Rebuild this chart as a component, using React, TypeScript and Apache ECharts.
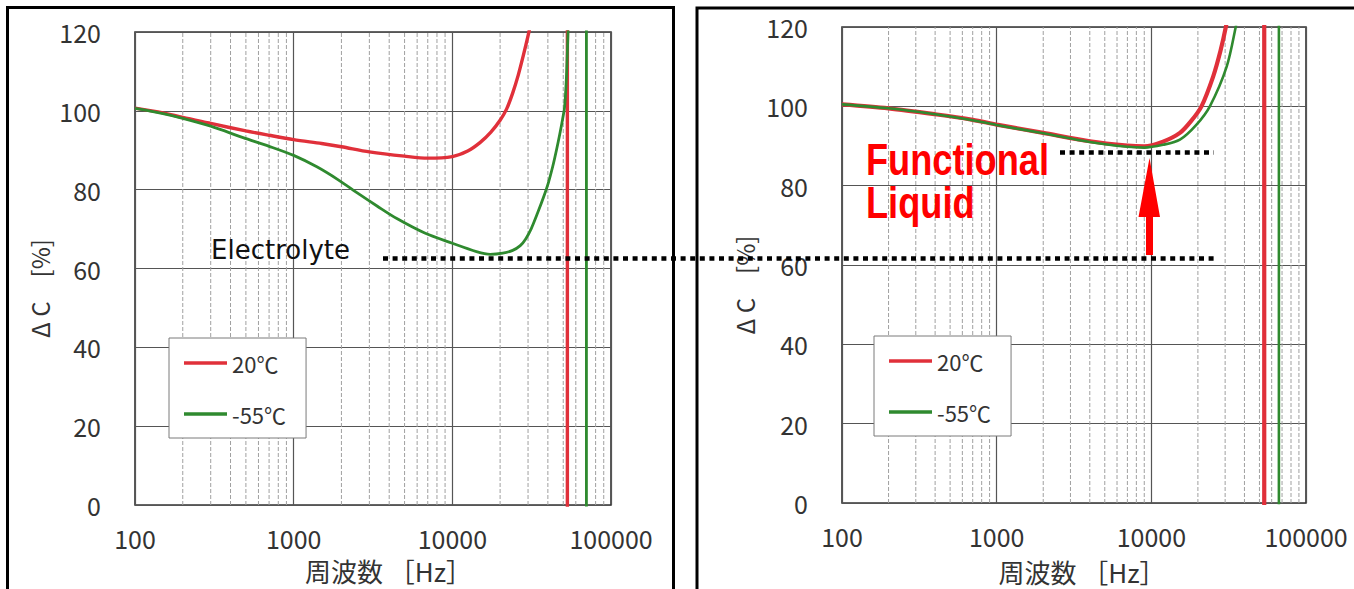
import React, { useEffect, useRef } from "react";
import * as echarts from "echarts";

// ---------- data ----------
const xMin = 100;
const xMax = 100000;
const yTicksInterval = 20;
const yMin = 0;
const yMax = 120;

const minorFreqs = [
  200, 300, 400, 500, 600, 700, 800, 900,
  2000, 3000, 4000, 5000, 6000, 7000, 8000, 9000,
  20000, 30000, 40000, 50000, 60000, 70000, 80000, 90000,
];

const seriesNames = ["20℃", "-55℃"];

// Left chart (Electrolyte)
const leftRedCurve: [number, number][] = [
  [100, 100.7], [150, 99.5], [200, 98.3], [300, 96.8], [500, 94.9], [700, 93.8],
  [1000, 92.7], [1500, 91.7], [2000, 90.9], [3000, 89.6], [5000, 88.5], [7000, 88.0],
  [10000, 88.4], [12500, 89.8], [15000, 92.0], [17500, 94.6], [20000, 97.6],
  [22000, 100.5], [24000, 104.5], [26000, 109.0], [28000, 114.0], [30000, 119.0], [31500, 123],
];
const leftRedVertical: [number, number][] = [[53100, -10], [53100, 130]];

const leftGreenCurve: [number, number][] = [
  [100, 100.6], [150, 99.3], [200, 98.1], [300, 96.1], [480, 93.2], [700, 91.0],
  [1000, 88.7], [1400, 85.8], [1910, 82.5], [2600, 78.8], [3370, 75.8], [4500, 72.6],
  [6700, 69.0], [10000, 66.4], [14200, 64.3], [17300, 63.6], [20800, 63.9],
  [24000, 64.6], [26800, 65.8], [29000, 67.5], [31500, 70.2], [34400, 74.0],
  [37500, 78.0], [40200, 81.6], [43000, 86.0], [45400, 90.2], [47500, 94.0],
  [49500, 97.8], [51000, 101.0], [52300, 108.0], [53200, 116.0], [53800, 122.0], [54200, 126],
];
const leftGreenVertical: [number, number][] = [[70000, -10], [70000, 130]];

// Right chart (Functional Liquid)
const rightRedCurve: [number, number][] = [
  [100, 100.5], [200, 99.5], [400, 98.0], [700, 96.6], [1000, 95.4], [2000, 93.3],
  [4000, 91.2], [7000, 90.1], [9000, 89.9], [11900, 91.1], [15300, 93.3], [18000, 96.2],
  [21100, 100.0], [25100, 107.5], [28000, 114.0], [30400, 120.2], [31500, 124],
];
const rightRedVertical: [number, number][] = [[53700, -10], [53700, 130]];

const rightGreenCurve: [number, number][] = [
  [100, 100.5], [200, 99.5], [400, 98.0], [700, 96.5], [1000, 95.3], [2000, 93.2],
  [4000, 91.0], [7000, 89.8], [9000, 89.6], [11900, 90.3], [15300, 91.6], [19600, 95.4],
  [23900, 100.0], [30700, 110.0], [35200, 120.2], [36500, 124],
];
const rightGreenVertical: [number, number][] = [[66800, -10], [66800, 130]];

// ---------- styling ----------
const RED = "#e0303a";
const GREEN = "#2f8a2f";
const TEXT = "#333";
const CJK = "'Noto Sans CJK JP', 'Noto Sans', sans-serif";

function withVertical(curve: [number, number][], vert: [number, number][]) {
  return [...curve, [vert[0][0], "-"], ...vert];
}

function minorGridData() {
  const out: any[] = [];
  minorFreqs.forEach((f) => {
    out.push([f, yMin], [f, yMax], [f, "-"]);
  });
  return out;
}

function xAxisFor(gridIndex: number, nameGap: number, shift: number) {
  return {
    type: "log",
    logBase: 10,
    gridIndex,
    min: xMin,
    max: xMax,
    name: "周波数 ［Hz］",
    nameLocation: "middle",
    nameGap,
    nameTextStyle: { fontFamily: CJK, fontSize: 26, color: TEXT, padding: [0, 0, 0, shift] },
    axisLine: { show: false },
    axisTick: { show: false },
    axisLabel: {
      margin: 20,
      fontFamily: CJK,
      fontSize: 25,
      color: TEXT,
      showMinLabel: true,
      showMaxLabel: true,
      formatter: (v: number) => String(Math.round(v)),
    },
    splitLine: { show: true, lineStyle: { color: "#555", width: 1.2 } },
  };
}

function yAxisFor(gridIndex: number, nameGap: number) {
  return {
    type: "value",
    gridIndex,
    min: yMin,
    max: yMax,
    interval: yTicksInterval,
    name: "Δ C　[%]",
    nameLocation: "middle",
    nameRotate: 90,
    nameGap,
    nameTextStyle: { fontFamily: CJK, fontSize: 24, color: TEXT, padding: [0, 40, 0, 0] },
    axisLine: { show: false },
    axisTick: { show: false },
    axisLabel: { margin: 34, fontFamily: CJK, fontSize: 25, color: TEXT },
    splitLine: { show: true, lineStyle: { color: "#555", width: 1.2 } },
  };
}

function curveSeries(name: string, idx: number, data: any[], color: string, width: number) {
  return {
    type: "line",
    name,
    xAxisIndex: idx,
    yAxisIndex: idx,
    data,
    symbol: "none",
    smooth: 0.3,
    clip: true,
    z: 5,
    color,
    lineStyle: { color, width },
    silent: true,
  };
}

function gridSeries(idx: number) {
  return {
    type: "line",
    name: "minor-grid-" + idx,
    xAxisIndex: idx,
    yAxisIndex: idx,
    data: minorGridData(),
    symbol: "none",
    z: 1,
    silent: true,
    lineStyle: { color: "#a0a0a0", width: 1, type: [4, 2] },
  };
}

function legendFor(left: number, top: number) {
  return {
    data: seriesNames,
    left,
    top,
    orient: "vertical",
    itemGap: 29,
    itemWidth: 43,
    itemHeight: 3.5,
    icon: "rect",
    padding: [14, 20, 13, 15],
    backgroundColor: "#fff",
    borderColor: "#7a7a7a",
    borderWidth: 1,
    textStyle: { fontFamily: CJK, fontSize: 22, color: TEXT, lineHeight: 22 },
    selectedMode: false,
  };
}

export default function App() {
  const ref = useRef<HTMLDivElement>(null);

  useEffect(() => {
    if (!ref.current) return;
    const chart = echarts.init(ref.current, undefined, { renderer: "svg" });

    const option: any = {
      animation: false,
      backgroundColor: "#fff",
      grid: [
        { left: 135, top: 32, width: 476, height: 473, show: true, borderColor: "#333", borderWidth: 1.6, backgroundColor: "transparent" },
        { left: 842, top: 27, width: 464, height: 478, show: true, borderColor: "#333", borderWidth: 1.6, backgroundColor: "transparent" },
      ],
      xAxis: [xAxisFor(0, 52, 31), xAxisFor(1, 55, 16)],
      yAxis: [yAxisFor(0, 84), yAxisFor(1, 86)],
      legend: [legendFor(169, 338), legendFor(874, 336)],
      series: [
        gridSeries(0),
        gridSeries(1),
        curveSeries(seriesNames[0], 0, withVertical(leftRedCurve, leftRedVertical), RED, 3.4),
        curveSeries(seriesNames[1], 0, withVertical(leftGreenCurve, leftGreenVertical), GREEN, 2.8),
        curveSeries(seriesNames[0], 1, withVertical(rightRedCurve, rightRedVertical), RED, 4.2),
        curveSeries(seriesNames[1], 1, withVertical(rightGreenCurve, rightGreenVertical), GREEN, 2.6),
      ],
      graphic: [
        // panel frames
        { type: "rect", z: 100, silent: true, shape: { x: 7.5, y: 7.5, width: 666, height: 620 }, style: { fill: "none", stroke: "#000", lineWidth: 3 } },
        { type: "rect", z: 100, silent: true, shape: { x: 697, y: 8, width: 700, height: 620 }, style: { fill: "none", stroke: "#000", lineWidth: 3 } },
        // dotted reference lines
        { type: "line", z: 100, silent: true, shape: { x1: 383, y1: 258.5, x2: 1214, y2: 258.5 }, style: { stroke: "#000", lineWidth: 4.5, lineDash: [5, 4.6] } },
        { type: "line", z: 100, silent: true, shape: { x1: 1060, y1: 152.5, x2: 1214, y2: 152.5 }, style: { stroke: "#000", lineWidth: 4.5, lineDash: [5, 4.6] } },
        // arrow
        {
          type: "polygon", z: 100, silent: true,
          shape: { points: [[1146, 255], [1146, 217], [1138.5, 217], [1149.5, 158], [1160, 217], [1153, 217], [1153, 255]] },
          style: { fill: "#ff0000" },
        },
        // texts
        {
          type: "text", z: 100, silent: true, x: 211, y: 250,
          style: { text: "Electrolyte", fontFamily: "'DejaVu Sans', sans-serif", fontSize: 26, fill: "#111", verticalAlign: "middle", align: "left" },
        },
        {
          type: "text", z: 100, silent: true, x: 866, y: 160, scaleX: 0.805,
          style: { text: "Functional", fontFamily: "'Liberation Sans', Arial, sans-serif", fontWeight: "bold", fontSize: 45, fill: "#ff0000", verticalAlign: "middle", align: "left" },
        },
        {
          type: "text", z: 100, silent: true, x: 866, y: 202.5, scaleX: 0.805,
          style: { text: "Liquid", fontFamily: "'Liberation Sans', Arial, sans-serif", fontWeight: "bold", fontSize: 45, fill: "#ff0000", verticalAlign: "middle", align: "left" },
        },
      ],
    };

    chart.setOption(option);
    return () => chart.dispose();
  }, []);

  return (
    <div
      ref={ref}
      style={{ position: "absolute", left: 0, top: 0, width: 1354, height: 589, background: "#fff" }}
    />
  );
}
